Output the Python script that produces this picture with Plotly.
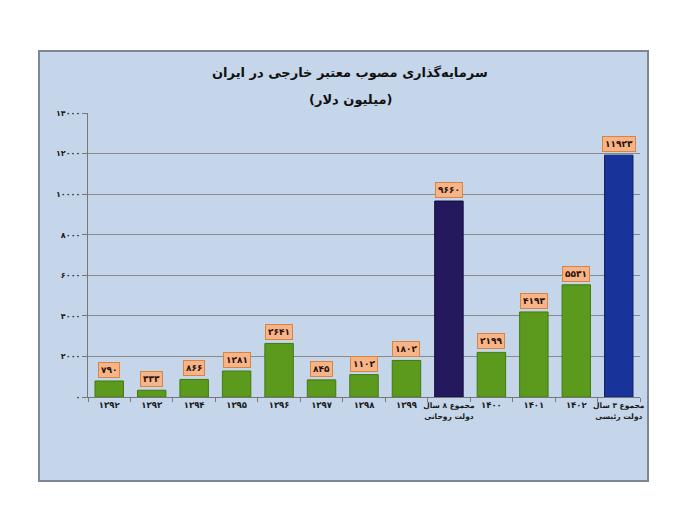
import plotly.graph_objects as go

# ---- data ----
categories = ["۱۳۹۲", "۱۳۹۳", "۱۳۹۴", "۱۳۹۵", "۱۳۹۶", "۱۳۹۷", "۱۳۹۸", "۱۳۹۹",
              "مجموع ۸ سال<br>دولت روحانی", "۱۴۰۰", "۱۴۰۱", "۱۴۰۲",
              "مجموع ۳ سال<br>دولت رئیسی"]
values = [790, 333, 866, 1281, 2641, 845, 1102, 1802, 9660, 2199, 4193, 5531, 11923]
bar_kinds = ["year"] * 8 + ["rouhani"] + ["year"] * 3 + ["raisi"]
y_tick_vals = [0, 2000, 4000, 6000, 8000, 10000, 12000, 14000]
y_tick_text = ["۰", "۲۰۰۰", "۴۰۰۰", "۶۰۰۰", "۸۰۰۰", "۱۰۰۰۰", "۱۲۰۰۰", "۱۴۰۰۰"]
title_lines = ["سرمایه‌گذاری مصوب معتبر خارجی در ایران", "(میلیون دلار)"]

kind_colors = {"year": "#5c9a1e", "rouhani": "#24195f", "raisi": "#18339a"}
kind_lines = {"year": "#3f7a10", "rouhani": "#120c38", "raisi": "#0d1f6a"}

def fa_digits(n):
    return str(n).translate(str.maketrans("0123456789", "۰۱۲۳۴۵۶۷۸۹"))

def tick_label(c):
    if "<br>" in c:
        return '<span style="font-size:7.5px"><b>' + c.replace("<br>", "</b><br><b>") + "</b></span>"
    return "<b>" + c + "</b>"

FONT = "DejaVu Sans"

fig = go.Figure()
fig.add_trace(go.Bar(
    x=categories, y=values,
    marker=dict(color=[kind_colors[k] for k in bar_kinds],
                line=dict(color=[kind_lines[k] for k in bar_kinds], width=1)),
    hoverinfo="skip",
))

for c, v in zip(categories, values):
    fig.add_annotation(
        x=c, y=v, text="<b>" + fa_digits(v) + "</b>",
        showarrow=False, yanchor="bottom", yshift=3,
        font=dict(family=FONT, size=9, color="#2a1208"),
        bgcolor="#f8b489", bordercolor="#d9843f", borderwidth=1, borderpad=2,
    )

# title lines
for txt, py, sz in [(title_lines[0], 72, 13), (title_lines[1], 100, 13)]:
    fig.add_annotation(
        xref="paper", yref="paper", x=(350 - 88) / 552, y=(397 - py) / 284,
        text="<b>" + txt + "</b>", showarrow=False, xanchor="center", yanchor="middle",
        font=dict(family=FONT, size=sz, color="#111"),
    )

# outer light-blue frame
fig.add_shape(type="rect", xref="paper", yref="paper",
              x0=-0.0888, x1=1.0145, y0=-0.2958, y1=1.2183,
              fillcolor="#c6d6ea", line=dict(color="#7d8794", width=2), layer="below")

fig.update_layout(
    width=700, height=519,
    margin=dict(l=88, r=60, t=113, b=122),
    paper_bgcolor="white", plot_bgcolor="white",
    bargap=0.33, showlegend=False,
    font=dict(family=FONT),
)
fig.update_xaxes(
    type="category", tickson="boundaries", ticks="outside", ticklen=4,
    tickcolor="#777", showline=True, linecolor="#777", linewidth=1,
    tickmode="array", tickvals=categories, ticktext=[tick_label(c) for c in categories],
    tickfont=dict(family=FONT, size=8.5, color="#1a1a1a"), tickangle=0,
    showgrid=False,
)
fig.update_yaxes(
    range=[0, 14000], tickvals=y_tick_vals, ticktext=["<b>" + t + "</b>" for t in y_tick_text],
    ticks="outside", ticklen=5, tickcolor="#777",
    showline=True, linecolor="#777", linewidth=1,
    showgrid=True, gridcolor="#8a8a8a", gridwidth=1,
    tickfont=dict(family=FONT, size=8, color="#1a1a1a"),
    zeroline=False,
)

fig.write_html("out.html")
